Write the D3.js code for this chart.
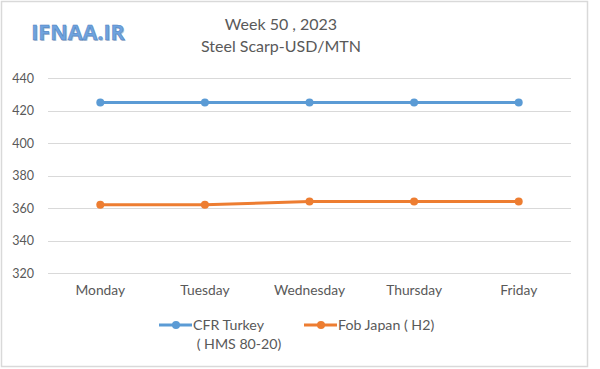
<!DOCTYPE html>
<html><head><meta charset="utf-8">
<script src="https://cdn.jsdelivr.net/npm/d3@7"></script>
<style>body{margin:0;background:#fff}svg{display:block}text{font-family:Lato,"Open Sans",sans-serif}</style>
</head><body>
<svg id="c" width="600" height="369"></svg>
<script>
const categories = ["Monday","Tuesday","Wednesday","Thursday","Friday"];
const cfrTurkey = [425,425,425,425,425];
const fobJapan = [362,362,364,364,364];
const yTicks = [320,340,360,380,400,420,440];
const seriesNames = ["CFR Turkey", "Fob Japan ( H2)"];

const svg = d3.select("#c");
svg.append("rect").attr("x",1.5).attr("y",1.5).attr("width",586).attr("height",365)
  .attr("fill","#fff").attr("stroke","#d9d9d9").attr("stroke-width",1.5);

const x = d3.scaleBand().domain(categories).range([48,571]);
const y = d3.scaleLinear().domain([320,440]).range([273,78]);

svg.append("g").selectAll("line").data(yTicks).join("line")
  .attr("x1",48).attr("x2",571).attr("y1",d=>Math.round(y(d))+0.5).attr("y2",d=>Math.round(y(d))+0.5)
  .attr("stroke","#d9d9d9").attr("stroke-width",1);

const yAxis = svg.append("g").attr("transform","translate(48,0)")
  .call(d3.axisLeft(y).tickValues(yTicks).tickSize(0).tickPadding(14));
yAxis.select(".domain").remove();
yAxis.selectAll("text").attr("fill","#595959").style("font-size","12.5px");

const xAxis = svg.append("g").attr("transform","translate(0,273)")
  .call(d3.axisBottom(x).tickSize(0).tickPadding(12));
xAxis.select(".domain").remove();
xAxis.selectAll("text").attr("fill","#595959").style("font-size","13.8px");

const series = [{name:seriesNames[0], values:cfrTurkey, color:"#5b9bd5"},
                {name:seriesNames[1], values:fobJapan, color:"#ed7d31"}];
const line = d3.line().x((d,i)=>x(categories[i])+x.bandwidth()/2).y(d=>y(d));
series.forEach(s=>{
  svg.append("path").datum(s.values).attr("d",line).attr("fill","none")
    .attr("stroke",s.color).attr("stroke-width",3).attr("stroke-linejoin","round");
  svg.append("g").selectAll("circle").data(s.values).join("circle")
    .attr("cx",(d,i)=>x(categories[i])+x.bandwidth()/2).attr("cy",d=>y(d)).attr("r",4)
    .attr("fill",s.color);
});

svg.append("text").attr("x",281).attr("y",30).attr("text-anchor","middle")
  .attr("fill","#595959").style("font-size","16px").text("Week 50 , 2023");
svg.append("text").attr("x",281).attr("y",52).attr("text-anchor","middle")
  .attr("fill","#595959").style("font-size","16px").text("Steel Scarp-USD/MTN");

// logo with shadow
svg.append("text").attr("x",79).attr("y",41).attr("text-anchor","middle")
  .attr("fill","#b8c4d4").style("font-size","21.5px").style("font-weight","bold")
  .style("font-family","'Open Sans',sans-serif").text("IFNAA.IR");
svg.append("text").attr("x",78).attr("y",40).attr("text-anchor","middle")
  .attr("fill","#6fa3de").attr("stroke","#4a7fc0").attr("stroke-width",0.5)
  .style("font-size","21.5px").style("font-weight","bold")
  .style("font-family","'Open Sans',sans-serif").text("IFNAA.IR");

const leg = [{x:159, color:"#5b9bd5", lines:["CFR Turkey"," ( HMS 80-20)"]},
             {x:304, color:"#ed7d31", lines:["Fob Japan ( H2)"]}];
leg.forEach(l=>{
  const g = svg.append("g");
  g.append("line").attr("x1",l.x).attr("x2",l.x+33).attr("y1",325).attr("y2",325)
    .attr("stroke",l.color).attr("stroke-width",3);
  g.append("circle").attr("cx",l.x+17).attr("cy",325).attr("r",4).attr("fill",l.color);
  l.lines.forEach((t,j)=>{
    g.append("text").attr("x",l.x+34).attr("y",330+j*19).attr("fill","#595959")
      .style("font-size","14.2px").style("white-space","pre").text(t);
  });
});
</script>
</body></html>
